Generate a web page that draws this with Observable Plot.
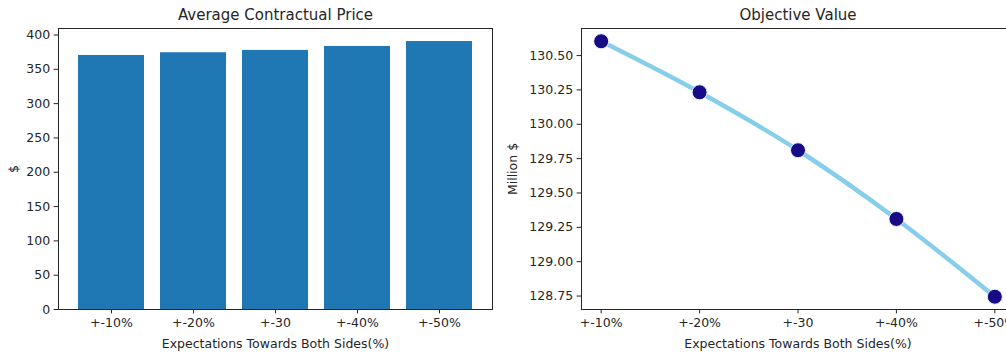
<!DOCTYPE html>
<html>
<head>
<meta charset="utf-8">
<script src="https://cdn.jsdelivr.net/npm/d3@7"></script>
<script src="https://cdn.jsdelivr.net/npm/@observablehq/plot@0.6"></script>
<style>
  html, body { margin: 0; padding: 0; background: #fff; overflow: hidden; width: 1006px; height: 356px; }
  #left { position: absolute; left: 0; top: 0; width: 500px; }
  #right { position: absolute; left: 500px; top: 0; width: 520px; }
  svg { font-family: "DejaVu Sans", sans-serif; max-width: none !important; }
</style>
</head>
<body>
<div id="left"></div>
<div id="right"></div>
<script>
const categories = ["+-10%", "+-20%", "+-30", "+-40%", "+-50%"];
const avgPrice = [370.2, 374.2, 377.6, 383.3, 390.5];
const objectiveValue = [130.604, 130.233, 129.811, 129.311, 128.745];
const priceTicks = [0, 50, 100, 150, 200, 250, 300, 350, 400];
const objTicks = [128.75, 129.00, 129.25, 129.50, 129.75, 130.00, 130.25, 130.50];

const barData = categories.map((c, i) => ({cat: c, value: avgPrice[i]}));
const lineData = categories.map((c, i) => ({cat: c, idx: i, value: objectiveValue[i]}));

const xLabel = "Expectations Towards Both Sides(%)";
const ink = "#262626";
const fs = 12.5;
const lbl = (t, opts) => Plot.text([t], {text: d => d, fill: ink, lineAnchor: "middle", textAnchor: "middle", ...opts});

// Left: bar chart
const left = Plot.plot({
  width: 500, height: 356,
  marginLeft: 58, marginRight: 8, marginTop: 28, marginBottom: 47,
  style: {fontFamily: "DejaVu Sans, sans-serif", fontSize: fs + "px", color: ink, background: "#fff", maxWidth: "none"},
  x: {domain: categories, paddingInner: 0.2, paddingOuter: 0.24, label: null},
  y: {domain: [0, 409.5], label: null},
  marks: [
    Plot.barY(barData, {x: "cat", y: "value", fill: "#1f77b4", inset: 0}),
    Plot.frame({stroke: ink, strokeWidth: 1}),
    Plot.axisY({ticks: priceTicks, tickSize: 4.4, tickPadding: 4, label: null, fontSize: fs}),
    Plot.axisX({tickSize: 4.4, tickPadding: 4, label: null, fontSize: fs}),
    lbl(xLabel, {frameAnchor: "bottom", dy: 34, fontSize: fs}),
    lbl("$", {frameAnchor: "left", dx: -45, rotate: -90, fontSize: fs}),
    lbl("Average Contractual Price", {frameAnchor: "top", dy: -13, fontSize: 15})
  ]
});
document.getElementById("left").appendChild(left);

// Right: line chart
const right = Plot.plot({
  width: 520, height: 356,
  marginLeft: 81, marginRight: 6, marginTop: 28, marginBottom: 47,
  style: {fontFamily: "DejaVu Sans, sans-serif", fontSize: fs + "px", color: ink, background: "#fff", maxWidth: "none"},
  x: {type: "linear", domain: [-0.2, 4.2], label: null},
  y: {domain: [128.652, 130.697], label: null},
  marks: [
    Plot.frame({stroke: ink, strokeWidth: 1}),
    Plot.line(lineData, {x: "idx", y: "value", stroke: "#87CEEB", strokeWidth: 4.5, curve: "monotone-x"}),
    Plot.dot(lineData, {x: "idx", y: "value", r: 7.5, fill: "#170c86", stroke: "#e8f4fb", strokeWidth: 1}),
    Plot.axisY({ticks: objTicks, tickFormat: d3.format(".2f"), tickSize: 4.4, tickPadding: 4, label: null, fontSize: fs}),
    Plot.axisX({ticks: [0, 1, 2, 3, 4], tickFormat: i => categories[i], tickSize: 4.4, tickPadding: 4, label: null, fontSize: fs}),
    lbl(xLabel, {frameAnchor: "bottom", dy: 34, fontSize: fs}),
    lbl("Million $", {frameAnchor: "left", dx: -68.5, rotate: -90, fontSize: fs}),
    lbl("Objective Value", {frameAnchor: "top", dy: -13, fontSize: 15})
  ]
});
document.getElementById("right").appendChild(right);
</script>
</body>
</html>
